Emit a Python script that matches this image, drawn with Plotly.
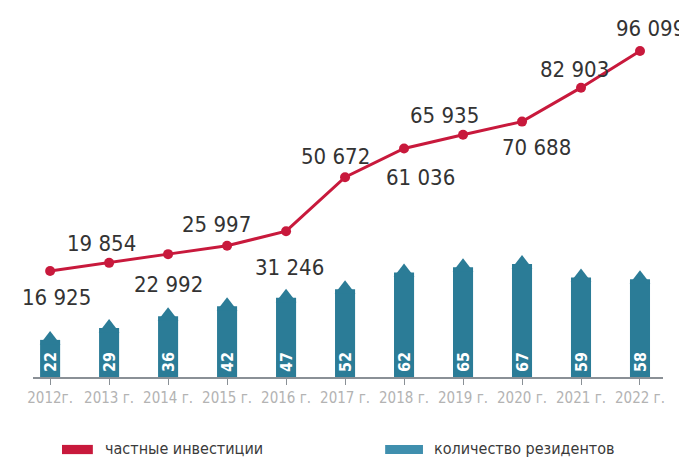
import plotly.graph_objects as go

years = ["2012г.", "2013 г.", "2014 г.", "2015 г.", "2016 г.", "2017 г.",
         "2018 г.", "2019 г.", "2020 г.", "2021 г.", "2022 г."]
investments = [16925, 19854, 22992, 25997, 31246, 50672, 61036, 65935, 70688, 82903, 96099]
investment_labels = ["16 925", "19 854", "22 992", "25 997", "31 246", "50 672",
                     "61 036", "65 935", "70 688", "82 903", "96 099"]
residents = [22, 29, 36, 42, 47, 52, 62, 65, 67, 59, 58]

series_names = ["частные инвестиции", "количество резидентов"]

RED = "#c8193c"
BLUE = "#2b7c97"
LEG_BLUE = "#3f8fae"
FONT = "DejaVu Sans Condensed, Liberation Sans Narrow, sans-serif"

# label offsets (pixels) relative to each point: style only
label_dx = [6, -8, 0, -11, 3, -10, 16, -19, 14, -7, 11]
label_dy = [-26, 19, -30, 21, -36, 21, -29, 19, -26, 18, 23]

fig = go.Figure()

fig.add_trace(go.Bar(
    x=years, y=residents, width=0.34,
    marker=dict(color=BLUE, line=dict(width=0)),
    showlegend=False, yaxis="y", hoverinfo="x+y",
))
# pointed tops of the bars
fig.add_trace(go.Scatter(
    x=years, y=residents, mode="markers",
    marker=dict(symbol="triangle-up", size=18, color=BLUE, line=dict(width=0)),
    showlegend=False, hoverinfo="skip", yaxis="y",
))

fig.add_trace(go.Scatter(
    x=years, y=investments, mode="lines+markers",
    line=dict(color=RED, width=3),
    marker=dict(color=RED, size=10),
    cliponaxis=False, showlegend=False, yaxis="y2",
))

annotations = []
for yr, v, lab, dx, dy in zip(years, investments, investment_labels, label_dx, label_dy):
    annotations.append(dict(
        x=yr, y=v, xref="x", yref="y2", text=lab, showarrow=False,
        xanchor="center", yanchor="middle", xshift=dx, yshift=dy,
        font=dict(family=FONT, size=22, color="#333333"),
    ))
for yr, r in zip(years, residents):
    annotations.append(dict(
        x=yr, y=0, xref="x", yref="y", text=str(r), showarrow=False,
        textangle=-90, xanchor="center", yanchor="bottom", yshift=3,
        font=dict(family=FONT, size=16, color="white", weight="bold"),
    ))
annotations += [
    dict(text=series_names[0], xref="paper", yref="paper", x=0.111, y=-0.195,
         xanchor="left", yanchor="middle", showarrow=False,
         font=dict(family=FONT, size=16, color="#3a3a3a")),
    dict(text=series_names[1], xref="paper", yref="paper", x=0.633, y=-0.195,
         xanchor="left", yanchor="middle", showarrow=False,
         font=dict(family=FONT, size=16, color="#3a3a3a")),
]

fig.update_layout(
    width=679, height=454,
    margin=dict(l=25, r=24, t=0, b=85),
    paper_bgcolor="white", plot_bgcolor="white",
    xaxis=dict(
        type="category", range=[-0.29, 10.39],
        showline=True, linecolor="#8a9096", linewidth=1.5,
        ticks="outside", ticklen=6, tickcolor="#8a9096", tickwidth=1.2,
        tickfont=dict(family=FONT, size=15, color="#b3b3b3"),
        showgrid=False, zeroline=False,
    ),
    yaxis=dict(range=[0, 218.7], visible=False, showgrid=False, zeroline=False),
    yaxis2=dict(range=[-21222, 111574], overlaying="y", visible=False,
                showgrid=False, zeroline=False),
    shapes=[
        dict(type="rect", xref="paper", yref="paper", x0=0.046, x1=0.095,
             y0=-0.209, y1=-0.184, fillcolor=RED, line=dict(width=0)),
        dict(type="rect", xref="paper", yref="paper", x0=0.559, x1=0.619,
             y0=-0.209, y1=-0.184, fillcolor=LEG_BLUE, line=dict(width=0)),
    ],
    annotations=annotations,
)

fig.write_html("out.html")
